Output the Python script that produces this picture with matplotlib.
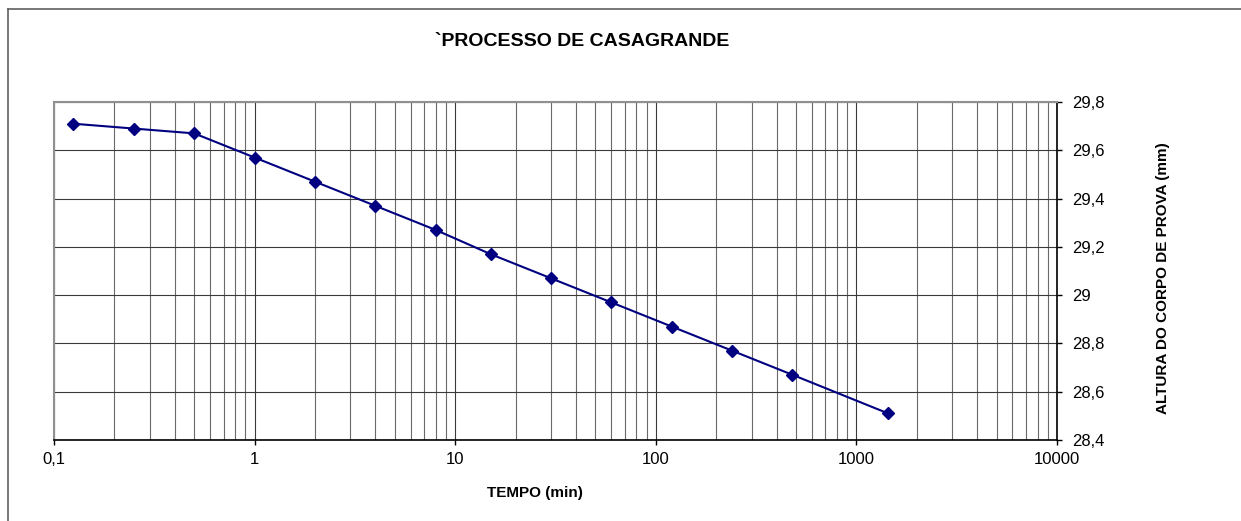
import numpy as np
import matplotlib.pyplot as plt
from matplotlib.lines import Line2D
from matplotlib.ticker import FixedLocator, FuncFormatter, LogLocator, NullFormatter

plt.rcParams["font.family"] = ["Liberation Sans", "DejaVu Sans"]

# data
TEMPO = [0.125, 0.25, 0.5, 1, 2, 4, 8, 15, 30, 60, 120, 240, 480, 1440]
ALTURA = [29.71, 29.69, 29.67, 29.57, 29.47, 29.37, 29.27,
          29.17, 29.07, 28.97, 28.87, 28.77, 28.67, 28.51]
Y_TICKS = [28.4, 28.6, 28.8, 29.0, 29.2, 29.4, 29.6, 29.8]
X_TICKS = [0.1, 1, 10, 100, 1000, 10000]

W, H = 1241, 521


def comma(v, _pos=None):
    s = f"{v:g}"
    return s.replace(".", ",")


def main():
    fig = plt.figure(figsize=(W / 100, H / 100), dpi=100)
    ax = fig.add_axes([54 / W, 1 - 440 / H, (1057 - 54) / W, (440 - 102) / H])

    ax.plot(TEMPO, ALTURA, color="#000080", lw=1.5, marker="D",
            markersize=6.5, markerfacecolor="#000080",
            markeredgecolor="#000080", zorder=3)

    ax.set_xscale("log")
    ax.set_xlim(0.1, 10000)
    ax.set_ylim(28.4, 29.8)

    ax.xaxis.set_major_locator(FixedLocator(X_TICKS))
    ax.xaxis.set_major_formatter(FuncFormatter(comma))
    ax.xaxis.set_minor_locator(LogLocator(base=10, subs=np.arange(2, 10)))
    ax.xaxis.set_minor_formatter(NullFormatter())
    ax.tick_params(axis="x", which="major", direction="out", length=3.6,
                   width=1, pad=5, labelsize=12)
    ax.tick_params(axis="x", which="minor", length=0)

    ax.yaxis.tick_right()
    ax.yaxis.set_label_position("right")
    ax.set_yticks(Y_TICKS)
    ax.yaxis.set_major_formatter(FuncFormatter(comma))
    ax.tick_params(axis="y", direction="out", length=3.6, width=1, pad=7.5,
                   labelsize=12)
    for lab in ax.get_yticklabels():
        lab.set_horizontalalignment("left")

    ax.grid(which="major", axis="both", color="#3a3a3a", lw=0.8)
    ax.grid(which="minor", axis="x", color="#6a6a6a", lw=0.8)
    ax.set_axisbelow(True)

    ax.spines["top"].set_color("#909090")
    ax.spines["left"].set_color("#909090")
    ax.spines["top"].set_linewidth(1.5)
    ax.spines["left"].set_linewidth(1.5)
    ax.spines["bottom"].set_color("black")
    ax.spines["right"].set_color("black")
    ax.spines["bottom"].set_linewidth(1.2)
    ax.spines["right"].set_linewidth(1.2)

    fig.text(582 / W, 1 - 42 / H, "`PROCESSO DE CASAGRANDE", ha="center",
             va="center", fontsize=14, fontweight="bold")
    fig.text(535 / W, 1 - 493 / H, "TEMPO (min)", ha="center", va="center",
             fontsize=11, fontweight="bold")
    fig.text(1163 / W, 1 - 278 / H, "ALTURA DO CORPO DE PROVA (mm)",
             ha="center", va="center", rotation=90, fontsize=11,
             fontweight="bold")

    # outer chart border (left and top only visible)
    fig.add_artist(Line2D([8 / W, 8 / W], [0, 1 - 9 / H], color="#606060",
                          lw=1.2, transform=fig.transFigure))
    fig.add_artist(Line2D([8 / W, 1], [1 - 9 / H, 1 - 9 / H], color="#606060",
                          lw=1.2, transform=fig.transFigure))

    fig.savefig("out.png", dpi=100)
    plt.close(fig)


if __name__ == "__main__":
    main()
